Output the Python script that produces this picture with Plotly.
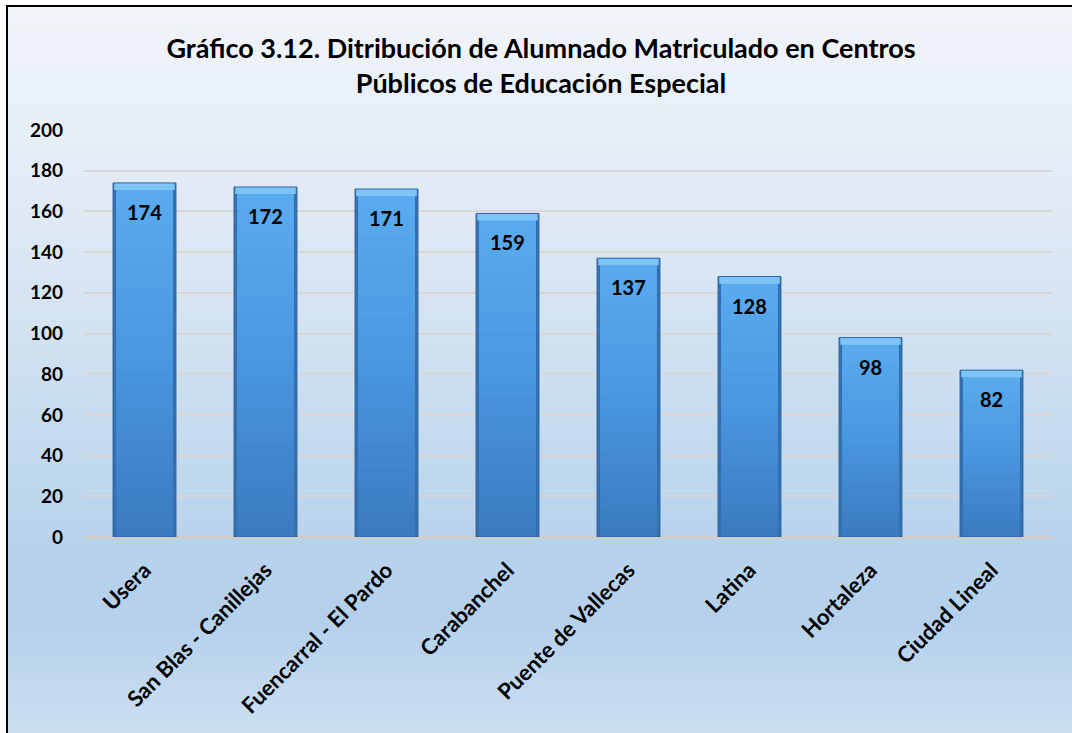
import plotly.graph_objects as go

categories = ["Usera", "San Blas - Canillejas", "Fuencarral - El Pardo", "Carabanchel",
              "Puente de Vallecas", "Latina", "Hortaleza", "Ciudad Lineal"]
values = [174, 172, 171, 159, 137, 128, 98, 82]
y_ticks = [0, 20, 40, 60, 80, 100, 120, 140, 160, 180, 200]
title_text = "Gráfico 3.12. Ditribución de Alumnado Matriculado en Centros<br>Públicos de Educación Especial"

FONT = "Lato, 'Open Sans', sans-serif"
W, H = 1072, 733
ML, MR, MT, MB = 84, 20, 130, 196
PW, PH = W - ML - MR, H - MT - MB


def px_to_paper_x(px):
    return (px - ML) / PW


def px_to_paper_y(py):
    return (H - MB - py) / PH


def lerp(c1, c2, t):
    return tuple(int(round(a + (b - a) * t)) for a, b in zip(c1, c2))


def grad_color(stops, p):
    for (p0, c0), (p1, c1) in zip(stops, stops[1:]):
        if p0 <= p <= p1:
            return lerp(c0, c1, (p - p0) / (p1 - p0) if p1 > p0 else 0)
    return stops[-1][1]


fig = go.Figure()

# Bar outer (dark edge)
fig.add_trace(go.Bar(x=categories, y=values, width=0.52,
                     marker=dict(color="#346fae", line=dict(width=0)),
                     hoverinfo="skip", showlegend=False))

# Inner gradient segments (overlapping to avoid seams)
N = 30
bar_stops = [(0.0, (58, 122, 192)), (0.5, (74, 150, 224)), (1.0, (90, 172, 238))]
for i in range(N):
    t = (i + 0.5) / N
    c = grad_color(bar_stops, t)
    bases = [v * i / N for v in values]
    heights = [min(v / N * 1.8, v - b) for v, b in zip(values, bases)]
    fig.add_trace(go.Bar(
        x=categories, y=heights, base=bases, width=0.47,
        marker=dict(color="rgb(%d,%d,%d)" % c, line=dict(width=0)),
        hoverinfo="skip", showlegend=False))

# Top bevel highlight
bevel = 3.5
fig.add_trace(go.Bar(x=categories, y=[bevel] * len(values),
                     base=[v - bevel for v in values], width=0.5,
                     marker=dict(color="#7ec4f6", line=dict(width=0)),
                     hoverinfo="skip", showlegend=False))

# Outline
fig.add_trace(go.Bar(x=categories, y=values, width=0.52,
                     marker=dict(color="rgba(0,0,0,0)", line=dict(color="#2f66a0", width=1)),
                     hoverinfo="skip", showlegend=False))

# Value labels
for c, v in zip(categories, values):
    fig.add_annotation(x=c, y=v, text="<b>%d</b>" % v, showarrow=False,
                       yshift=-29, font=dict(family=FONT, size=20, color="black"))

# Background gradient inside frame
shapes = []
bg_stops = [(6, (242, 245, 250)), (300, (214, 228, 242)), (545, (183, 211, 236)),
            (620, (180, 208, 235)), (733, (204, 223, 242))]
step = 6
py = 6
while py < H:
    c = grad_color(bg_stops, py + step / 2)
    shapes.append(dict(type="rect", xref="paper", yref="paper", layer="below",
                       x0=px_to_paper_x(7), x1=px_to_paper_x(W + 5),
                       y0=px_to_paper_y(py + step + 0.5), y1=px_to_paper_y(py),
                       fillcolor="rgb(%d,%d,%d)" % c, line=dict(width=0)))
    py += step
# Frame
shapes.append(dict(type="rect", xref="paper", yref="paper", layer="above",
                   x0=px_to_paper_x(7), x1=px_to_paper_x(W + 20),
                   y0=px_to_paper_y(H + 20), y1=px_to_paper_y(6),
                   fillcolor="rgba(0,0,0,0)", line=dict(color="black", width=2)))

fig.update_layout(
    width=W, height=H,
    margin=dict(l=ML, r=MR, t=MT, b=MB),
    paper_bgcolor="white", plot_bgcolor="rgba(0,0,0,0)",
    barmode="overlay", bargap=0.5,
    shapes=shapes,
    title=dict(text="<b>" + title_text + "</b>", x=541 / W, xanchor="center",
               y=1 - 58 / H, yanchor="middle", yref="container",
               font=dict(family=FONT, size=27, color="black")),
    font=dict(family=FONT, color="black"),
)
fig.update_xaxes(tickangle=-45, tickfont=dict(family=FONT, size=22, color="black"),
                 showgrid=False, showline=False, ticks="", ticklabelstandoff=15,
                 tickvals=categories, ticktext=["<b>%s</b>" % c for c in categories])
fig.update_yaxes(range=[0, 200], tickvals=y_ticks,
                 ticktext=["<b>%d</b>" % t for t in y_ticks],
                 tickfont=dict(family=FONT, size=19, color="black"),
                 showgrid=True, gridcolor="#d9d6d3", gridwidth=1.5,
                 zeroline=True, zerolinecolor="#cfcccc", zerolinewidth=3,
                 ticks="", ticklabelstandoff=20)

fig.write_html("out.html", config={"displayModeBar": False},
               post_script="document.body.style.margin='0';document.body.style.overflow='hidden';")
